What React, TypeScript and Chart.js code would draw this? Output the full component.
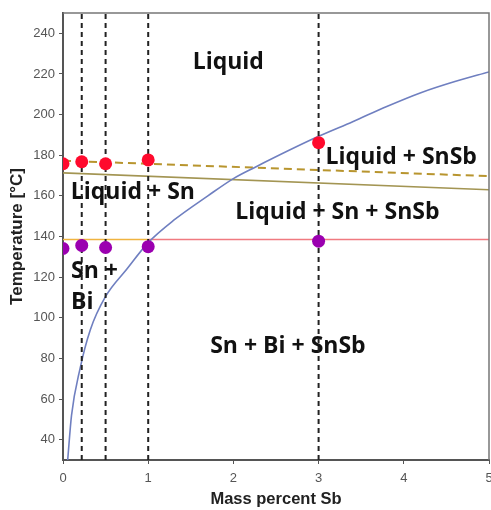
import React, { useEffect, useRef } from "react";
import { Chart, registerables } from "chart.js";

Chart.register(...registerables);

// ---- data ----
const xTicks = [0, 1, 2, 3, 4, 5];
const yTicks = [40, 60, 80, 100, 120, 140, 160, 180, 200, 220, 240];

const sampleCompositions = [0, 0.22, 0.5, 1, 3];
const liquidusTemps = [175.8, 176.8, 175.8, 177.7, 186.2];
const solidusTemps = [134.1, 135.6, 134.6, 135.0, 137.7];

const markerCompositions = [0.22, 0.5, 1, 3];

const boundaryX = [0, 5];
const dashedLiquidus = [177.3, 169.7];
const solidLiquidus = [171.3, 163.0];

const eutecticLowX = [0, 1];
const eutecticLowT = [138.5, 138.5];
const eutecticHighX = [1, 5];
const eutecticHighT = [138.5, 138.5];

const solvusX = [0.055, 0.1, 0.2, 0.32, 0.5, 0.75, 1.0, 1.3, 1.7, 2.0, 2.25, 3.0, 3.4, 3.8, 4.2, 4.6, 5.0];
const solvusT = [30, 52, 75, 94, 110.5, 124, 137, 148, 160, 168.5, 174, 189.3, 196.5, 204, 210.8, 216.3, 221];

const labelTexts = ["Liquid", "Liquid + SnSb", "Liquid + Sn", "Liquid + Sn + SnSb", "Sn +", "Bi", "Sn + Bi + SnSb"];
const labelX = [1.94, 3.97, 0.82, 3.22, 0.094, 0.094, 2.64];
const labelY = [225.8, 178.7, 161.6, 151.8, 122.8, 107.6, 86.1];
const labelAlign = ["center", "center", "center", "center", "left", "left", "center"];

const xTitle = "Mass percent Sb";
const yTitle = "Temperature [°C]";

const pts = (xs: number[], ys: number[]) => xs.map((x, i) => ({ x, y: ys[i] }));

export default function App() {
  const ref = useRef<HTMLCanvasElement | null>(null);

  useEffect(() => {
    if (!ref.current) return;

    const labelsPlugin = {
      id: "regionLabels",
      beforeDatasetsDraw(chart: any) {
        const { ctx, scales } = chart;
        ctx.save();
        ctx.fillStyle = "#111";
        ctx.font = "bold 23px 'Open Sans'";
        ctx.textBaseline = "middle";
        labelTexts.forEach((t, i) => {
          ctx.textAlign = labelAlign[i] as CanvasTextAlign;
          ctx.fillText(t, scales.x.getPixelForValue(labelX[i]), scales.y.getPixelForValue(labelY[i]));
        });
        ctx.restore();
      },
      afterDraw(chart: any) {
        const { ctx, chartArea } = chart;
        ctx.save();
        ctx.strokeStyle = "#777";
        ctx.lineWidth = 1.5;
        ctx.beginPath();
        ctx.moveTo(chartArea.left, chartArea.top);
        ctx.lineTo(chartArea.right, chartArea.top);
        ctx.lineTo(chartArea.right, chartArea.bottom);
        ctx.stroke();
        ctx.restore();
      },
    };

    const verticals = markerCompositions.map((x) => ({
      data: [{ x, y: 30 }, { x, y: 250 }],
      showLine: true,
      borderColor: "#222",
      borderWidth: 2,
      borderDash: [5, 4],
      pointRadius: 0,
    }));

    const chart = new Chart(ref.current, {
      type: "scatter",
      data: {
        datasets: [
          {
            data: pts(sampleCompositions, liquidusTemps),
            pointRadius: 6.5,
            pointBackgroundColor: "#ff0a2d",
            pointBorderWidth: 0,
            borderWidth: 0,
          },
          {
            data: pts(sampleCompositions, solidusTemps),
            pointRadius: 6.5,
            pointBackgroundColor: "#9b00b0",
            pointBorderWidth: 0,
            borderWidth: 0,
          },
          ...verticals,
          {
            data: pts(solvusX, solvusT),
            showLine: true,
            borderColor: "#6f7fc0",
            borderWidth: 1.6,
            pointRadius: 0,
            cubicInterpolationMode: "monotone",
          },
          {
            data: pts(boundaryX, dashedLiquidus),
            showLine: true,
            borderColor: "#b8952e",
            borderWidth: 2,
            borderDash: [8, 5],
            pointRadius: 0,
          },
          {
            data: pts(boundaryX, solidLiquidus),
            showLine: true,
            borderColor: "#a39553",
            borderWidth: 1.6,
            pointRadius: 0,
          },
          {
            data: pts(eutecticLowX, eutecticLowT),
            showLine: true,
            borderColor: "#f0b440",
            borderWidth: 1.6,
            pointRadius: 0,
          },
          {
            data: pts(eutecticHighX, eutecticHighT),
            showLine: true,
            borderColor: "#f07a80",
            borderWidth: 1.6,
            pointRadius: 0,
          },
        ] as any,
      },
      options: {
        animation: false,
        responsive: true,
        maintainAspectRatio: false,
        layout: { autoPadding: false, padding: { left: 0, right: 2, top: 13, bottom: 0 } },
        plugins: {
          legend: { display: false },
          tooltip: { enabled: false },
        },
        scales: {
          x: {
            type: "linear",
            min: 0,
            max: 5,
            afterBuildTicks: (s: any) => {
              s.ticks = xTicks.map((v) => ({ value: v }));
            },
            afterFit: (s: any) => {
              s.height = 50;
              s.paddingRight = 0;
              s.paddingLeft = 0;
            },
            border: { color: "#555", width: 2 },
            grid: { drawOnChartArea: false, tickLength: 4, color: "#555" },
            ticks: {
              color: "#555",
              padding: 7,
              maxRotation: 0,
              font: { family: "Liberation Sans", size: 13 },
            },
            title: {
              display: true,
              text: xTitle,
              color: "#222",
              font: { family: "Liberation Sans", size: 16.5, weight: "bold" },
              padding: { top: 0, bottom: 1 },
            },
          },
          y: {
            type: "linear",
            min: 30,
            max: 250,
            afterBuildTicks: (s: any) => {
              s.ticks = yTicks.map((v) => ({ value: v }));
            },
            afterFit: (s: any) => {
              s.width = 63;
            },
            border: { color: "#555", width: 2 },
            grid: { drawOnChartArea: false, tickLength: 4, color: "#555" },
            ticks: {
              color: "#555",
              padding: 4,
              font: { family: "Liberation Sans", size: 13 },
            },
            title: {
              display: true,
              text: yTitle,
              color: "#222",
              font: { family: "Liberation Sans", size: 17, weight: "bold" },
              padding: { top: 7, bottom: 0 },
            },
          },
        },
      },
      plugins: [labelsPlugin],
    } as any);

    return () => chart.destroy();
  }, []);

  return (
    <div style={{ position: "fixed", left: 0, top: 0, width: 491, height: 510, background: "#fff" }}>
      <canvas ref={ref} />
    </div>
  );
}
